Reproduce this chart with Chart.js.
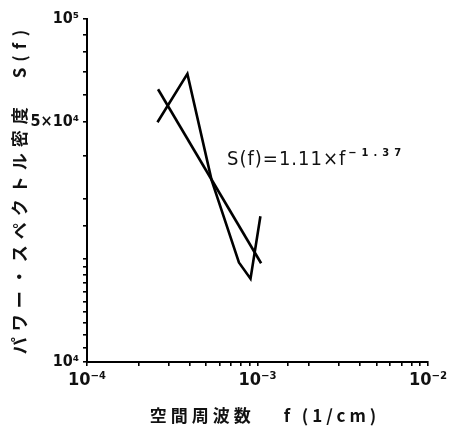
<!DOCTYPE html>
<html lang="ja">
<head>
<meta charset="utf-8">
<title>空間周波数とパワー・スペクトル密度</title>
<script src="https://cdn.jsdelivr.net/npm/chart.js@4/dist/chart.umd.min.js"></script>
<style>
  html, body { margin: 0; padding: 0; background: #ffffff; }
  #wrap { position: relative; width: 462px; height: 426px; }
</style>
</head>
<body>
<div id="wrap"><canvas id="chartSpectre" width="462" height="426"></canvas></div>
<script>
const freqMesure = [2.59e-4, 3.88e-4, 5.38e-4, 7.78e-4, 9.10e-4, 1.04e-3];
const densiteMesure = [5.0e4, 6.92e4, 3.39e4, 1.95e4, 1.75e4, 2.66e4];

// droite d'ajustement
const freqAjust = [2.61e-4, 1.05e-3];
const densiteAjust = [6.24e4, 1.94e4];

// bornes et etiquettes des axes
const xBornes = [1e-4, 1e-2];
const yBornes = [1e4, 1e5];
const xEtiquettes = { "-4": "10⁻⁴", "-3": "10⁻³", "-2": "10⁻²" };
const yEtiquettes = { 10000: "10⁴", 50000: "5×10⁴", 100000: "10⁵" };

const titreX = "空間周波数　 f (1/cm)";
const titreY = "パワー・スペクトル密度　S(f)";
const formule = "S(f)=1.11×f";
const exposant = "−1.37";

const TICK_FAMILY = "'Liberation Sans Narrow', 'DejaVu Sans Condensed', sans-serif";

function versPoints(xs, ys) {
  return xs.map((x, i) => ({ x: x, y: ys[i] }));
}

function estPuissanceDeDix(v) {
  const l = Math.log10(v);
  return Math.abs(l - Math.round(l)) < 1e-9;
}

// titres des axes et formule, dessines apres le graphique
const textesPlugin = {
  id: "textes",
  afterDraw(chart) {
    const ctx = chart.ctx;

    ctx.save();
    ctx.fillStyle = "#111";
    ctx.textAlign = "center";
    ctx.textBaseline = "middle";

    // titre axe X
    ctx.font = "bold 17px 'Noto Sans CJK JP', sans-serif";
    ctx.letterSpacing = "4px";
    ctx.fillText(titreX, 265, 416);

    // titre axe Y (vertical)
    ctx.save();
    ctx.translate(20, 189);
    ctx.rotate(-Math.PI / 2);
    ctx.letterSpacing = "6px";
    ctx.fillText(titreY, 0, 0);
    ctx.restore();

    // formule de l'ajustement
    ctx.textAlign = "left";
    ctx.textBaseline = "alphabetic";
    ctx.font = "20px 'DejaVu Sans Condensed', sans-serif";
    ctx.letterSpacing = "1px";
    ctx.fillText(formule, 227, 165);
    const w = ctx.measureText(formule).width;
    ctx.font = "bold 11px 'DejaVu Sans Condensed', sans-serif";
    ctx.letterSpacing = "5px";
    ctx.fillText(exposant, 227 + w + 2, 156);
    ctx.restore();
  },
};

function renderChartSpectre() {
  const canvas = document.getElementById("chartSpectre");
  if (!canvas || !window.Chart) return;

  const styleLigne = {
    borderColor: "#000",
    borderWidth: 2.6,
    pointRadius: 0,
    pointHoverRadius: 0,
    showLine: true,
    fill: false,
    tension: 0,
    borderJoinStyle: "miter",
  };

  canvas._chart = new Chart(canvas, {
    type: "scatter",
    data: {
      datasets: [
        Object.assign({ label: "mesure", data: versPoints(freqMesure, densiteMesure) }, styleLigne),
        Object.assign({ label: "ajustement", data: versPoints(freqAjust, densiteAjust) }, styleLigne),
      ],
    },
    options: {
      responsive: false,
      animation: false,
      devicePixelRatio: 1,
      layout: { padding: { left: 0, right: 34, top: 19, bottom: 0 } },
      scales: {
        x: {
          type: "logarithmic",
          min: xBornes[0],
          max: xBornes[1],
          afterFit: (scale) => { scale.height = 64; },
          border: { display: true, color: "#000", width: 2 },
          grid: { display: true, drawOnChartArea: false, drawTicks: true, tickLength: 4, color: "#000", lineWidth: 1.6 },
          ticks: {
            autoSkip: false,
            maxRotation: 0,
            padding: 4,
            color: "#111",
            font: { family: TICK_FAMILY, size: 18, weight: "bold" },
            callback: (v) => (estPuissanceDeDix(v) ? xEtiquettes[String(Math.round(Math.log10(v)))] : ""),
          },
        },
        y: {
          type: "logarithmic",
          min: yBornes[0],
          max: yBornes[1],
          afterFit: (scale) => { scale.width = 87; },
          border: { display: true, color: "#000", width: 2 },
          grid: { display: true, drawOnChartArea: false, drawTicks: true, tickLength: 4, color: "#000", lineWidth: 1.6 },
          ticks: {
            autoSkip: false,
            padding: 4,
            color: "#111",
            font: { family: TICK_FAMILY, size: 16, weight: "bold" },
            callback: (v) => yEtiquettes[Math.round(v)] || "",
          },
        },
      },
      plugins: {
        legend: { display: false },
        tooltip: { enabled: false },
      },
    },
    plugins: [textesPlugin],
  });
}

window.addEventListener("DOMContentLoaded", renderChartSpectre);
</script>
</body>
</html>
